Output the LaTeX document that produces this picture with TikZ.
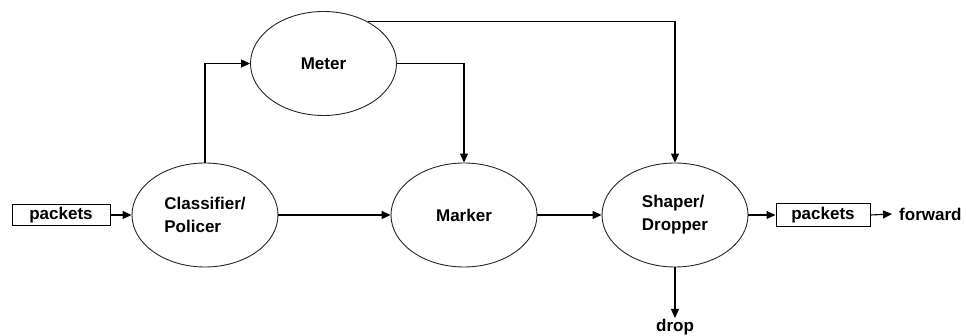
\documentclass[tikz,border=0pt]{standalone}
\usepackage{fontspec}
\setmainfont{Liberation Sans}
\usetikzlibrary{arrows.meta,shapes.geometric}

\begin{document}
\begin{tikzpicture}[x=1pt,y=-1pt,
  every node/.style={font=\fontsize{17}{23}\selectfont\bfseries},
  block/.style={ellipse,draw=black!85,line width=0.9pt,inner sep=0pt,
                minimum width=146pt,minimum height=104pt,align=left},
  pktbox/.style={rectangle,draw,line width=1pt,inner sep=0pt},
  wire/.style={line width=1.1pt},
  arr/.style={wire,-{Triangle[length=9pt,width=8pt]}}]

  \useasboundingbox[fill=white] (0,0) rectangle (966,336);

  % processing blocks
  \node[block] (meter) at (323.5,63.5) {Meter};
  \node[block] (clf)   at (205,215)    {Classifier/\\Policer};
  \node[block] (mark)  at (464,215)    {Marker};
  \node[block] (shape) at (675,215)    {Shaper/\\Dropper};

  % packet buffers and end labels
  \node[pktbox,minimum width=98pt,minimum height=21pt] (pin)  at (61,215)  {packets};
  \node[pktbox,minimum width=94pt,minimum height=23pt] (pout) at (823,215) {packets};
  \node[inner xsep=7pt,inner ysep=0pt,anchor=west] (fwd) at (892,214) {forward};
  \node[anchor=north,inner sep=1pt] (drop) at (675,318) {drop};

  % main packet path
  \draw[arr] (pin.east) -- (clf.west);
  \draw[arr] (clf.east) -- (mark.west);
  \draw[arr] (mark.east) -- (shape.west);
  \draw[arr] (shape.east) -- (pout.west);
  \draw[arr] (pout.east) -- (fwd.west);
  \draw[arr] (shape.south) -- (drop.north);

  % metering paths
  \draw[arr] (clf.north) |- (meter.west);
  \draw[arr] (meter.east) -| (mark.north);
  \draw[arr] (meter.43.6) -| (shape.north);
\end{tikzpicture}
\end{document}
